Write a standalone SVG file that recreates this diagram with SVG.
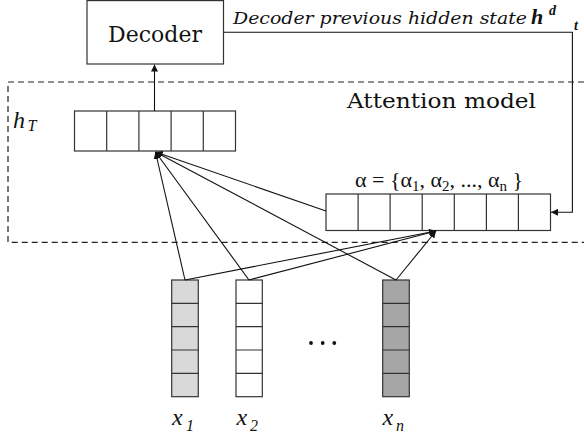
<svg xmlns="http://www.w3.org/2000/svg" width="584" height="441" viewBox="0 0 584 441">
<style>
.box{fill:#fff;stroke:#333;stroke-width:1.2}
.cell{stroke:#333;stroke-width:1.2}
.ln{stroke:#111;stroke-width:1.1;fill:none}
.ser{font-family:"DejaVu Serif","Liberation Serif",serif;fill:#111}
.it{font-style:italic}
.lser{font-family:"Liberation Serif","DejaVu Serif",serif;fill:#111}
</style>
<defs>
<marker id="ah" viewBox="0 0 10 10" refX="10" refY="5" markerWidth="7" markerHeight="7" markerUnits="userSpaceOnUse" orient="auto">
<path d="M0,0 L10,5 L0,10 z" fill="#111"/>
</marker>
</defs>
<rect x="0" y="0" width="584" height="441" fill="#fff"/>

<g id="attention-region">
<path d="M584,82 H8 V242.3 H584" fill="none" stroke="#222" stroke-width="1.2" stroke-dasharray="6,4"/>
<text class="ser" x="347" y="108" font-size="21" textLength="189" lengthAdjust="spacingAndGlyphs">Attention model</text>
</g>

<g id="decoder">
<rect class="box" x="87" y="0.6" width="136.5" height="63.4"/>
<text class="ser" x="155" y="42" font-size="22" text-anchor="middle">Decoder</text>
</g>

<g id="decoder-label">
<text class="ser it" x="233" y="23.5" font-size="16" textLength="294" lengthAdjust="spacingAndGlyphs">Decoder previous hidden state</text>
<text class="lser it" x="531" y="23.5" font-size="22" font-weight="bold">h</text>
<text class="lser it" x="549" y="15" font-size="14" font-weight="bold">d</text>
<text class="lser it" x="574" y="30" font-size="14" font-weight="bold">t</text>
</g>

<g id="hT">
<text class="lser it" x="13" y="128" font-size="24">h</text>
<text class="lser it" x="27.5" y="131" font-size="16">T</text>
<rect class="box" x="74.5" y="111" width="161" height="40"/>
<path class="cell" d="M106.7,111 V151 M138.9,111 V151 M171.1,111 V151 M203.3,111 V151"/>
</g>

<g id="alpha">
<text class="lser" x="355" y="187" font-size="22">α = {α<tspan font-size="15" dy="3.5">1</tspan><tspan dy="-3.5">, α</tspan><tspan font-size="15" dy="3.5">2</tspan><tspan dy="-3.5">, ..., α</tspan><tspan font-size="15" dy="3.5">n</tspan><tspan dy="-3.5"> }</tspan></text>
<rect class="box" x="326" y="194" width="224.5" height="36.5"/>
<path class="cell" d="M358.1,194 V230.5 M390.1,194 V230.5 M422.2,194 V230.5 M454.3,194 V230.5 M486.4,194 V230.5 M518.4,194 V230.5"/>
</g>

<g id="x1">
<rect x="171.7" y="280" width="26.6" height="116.7" fill="#d9d9d9" stroke="#333" stroke-width="1.2"/>
<path class="cell" d="M171.7,303.3 H198.3 M171.7,326.7 H198.3 M171.7,350 H198.3 M171.7,373.3 H198.3"/>
<text class="lser it" x="172" y="425" font-size="24">x</text>
<text class="lser it" x="186" y="431" font-size="16">1</text>
</g>

<g id="x2">
<rect x="236" y="280" width="26.3" height="116.7" fill="#fff" stroke="#333" stroke-width="1.2"/>
<path class="cell" d="M236,303.3 H262.3 M236,326.7 H262.3 M236,350 H262.3 M236,373.3 H262.3"/>
<text class="lser it" x="236.5" y="425" font-size="24">x</text>
<text class="lser it" x="250" y="431" font-size="16">2</text>
</g>

<g id="ellipsis">
<circle cx="311" cy="343" r="1.9" fill="#111"/>
<circle cx="322.7" cy="343" r="1.9" fill="#111"/>
<circle cx="334.3" cy="343" r="1.9" fill="#111"/>
</g>

<g id="xn">
<rect x="382.7" y="280" width="26.6" height="116.7" fill="#a6a6a6" stroke="#333" stroke-width="1.2"/>
<path class="cell" d="M382.7,303.3 H409.3 M382.7,326.7 H409.3 M382.7,350 H409.3 M382.7,373.3 H409.3"/>
<text class="lser it" x="382.5" y="425" font-size="24">x</text>
<text class="lser it" x="396" y="431" font-size="16">n</text>
</g>

<g id="connectors">
<line class="ln" x1="154.5" y1="111" x2="154.5" y2="64.5" marker-end="url(#ah)"/>
<path class="ln" d="M223.5,32.3 H572.4 V212.3 H551" marker-end="url(#ah)"/>
<line class="ln" x1="185" y1="280" x2="155.5" y2="152" marker-end="url(#ah)"/>
<line class="ln" x1="249" y1="280" x2="155.5" y2="152" marker-end="url(#ah)"/>
<line class="ln" x1="396" y1="280" x2="155.5" y2="152" marker-end="url(#ah)"/>
<line class="ln" x1="326" y1="211" x2="155.5" y2="152" marker-end="url(#ah)"/>
<line class="ln" x1="185" y1="280" x2="436" y2="231" marker-end="url(#ah)"/>
<line class="ln" x1="249" y1="280" x2="436" y2="231" marker-end="url(#ah)"/>
<line class="ln" x1="396" y1="280" x2="436" y2="231" marker-end="url(#ah)"/>
</g>
</svg>
